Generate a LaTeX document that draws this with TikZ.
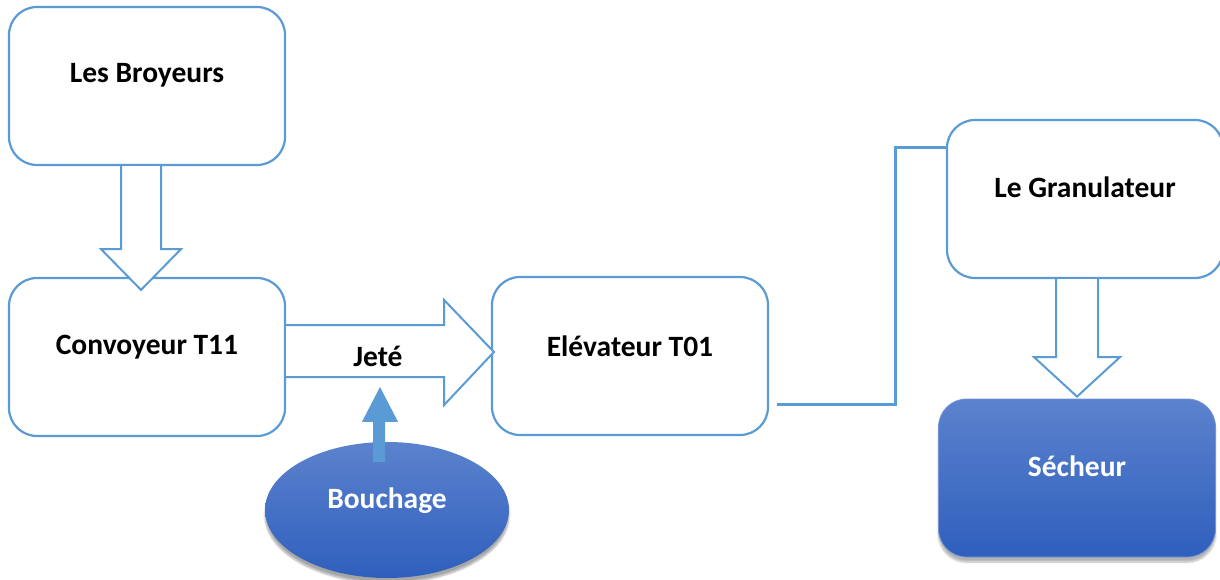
\documentclass[tikz,border=0pt]{standalone}
\usepackage{fontspec}
\setmainfont{Carlito}
\usetikzlibrary{calc,shapes.geometric,shadows.blur}
\definecolor{edge}{HTML}{5B9BD5}
\definecolor{topblue}{HTML}{5B82CD}
\definecolor{botblue}{HTML}{2F5FBD}
\begin{document}
\begin{tikzpicture}[x=1pt,y=-1pt,
 box/.style={draw=edge, line width=2.2pt, rounded corners=28pt, fill=white, minimum width=276pt, minimum height=158pt, inner sep=0pt},
 fillbox/.style={rounded corners=28pt, minimum width=277pt, minimum height=158pt, inner sep=0pt, top color=topblue, bottom color=botblue, draw=topblue!85!white, line width=0.8pt, blur shadow={shadow xshift=0pt, shadow yshift=-5pt, shadow blur steps=8, shadow opacity=30}},
 fillell/.style={ellipse, minimum width=244pt, minimum height=136pt, inner sep=0pt, top color=topblue, bottom color=botblue, draw=none, blur shadow={shadow xshift=0pt, shadow yshift=-5pt, shadow blur steps=8, shadow opacity=35}},
 lbl/.style={anchor=base, font=\fontsize{29.5}{35}\selectfont\bfseries, text=black, inner sep=0pt},
 wlbl/.style={lbl, text=white},
 blockarrow/.style={draw=edge, line width=2pt, fill=white, line join=miter},
]
\useasboundingbox (0,0) rectangle (1220,580);

% boxes
\node[box] (broy) at (147,86) {};
\node[box] (conv) at (147,357) {};
\node[box] (elev) at (630,356) {};
\node[box] (gran) at (1085,199) {};
\node[fillbox] (sech) at (1077,478) {};
\node[fillell] (bouch) at (387,510) {};

% block arrow Broyeurs -> Convoyeur
\draw[blockarrow] ($(broy.south)+(-26,0)$) -- ($(broy.south)+(-26,83)$) -- ($(broy.south)+(-46,83)$) -- ($(conv.north)+(-6,13)$) -- ($(broy.south)+(34,83)$) -- ($(broy.south)+(14,83)$) -- ($(broy.south)+(14,0)$);

% block arrow Convoyeur -> Elevateur
\draw[blockarrow] ($(conv.east)+(0,-32)$) -- ($(conv.east)+(158,-32)$) -- ($(conv.east)+(158,-57)$) -- ($(elev.west)+(3,-4)$) -- ($(conv.east)+(158,48)$) -- ($(conv.east)+(158,20)$) -- ($(conv.east)+(0,20)$);

% block arrow Granulateur -> Secheur
\draw[blockarrow] ($(gran.south)+(-29,0)$) -- ($(gran.south)+(-29,78)$) -- ($(gran.south)+(-51,78)$) -- ($(sech.north)+(0,-2)$) -- ($(gran.south)+(35,78)$) -- ($(gran.south)+(13,78)$) -- ($(gran.south)+(13,0)$);

% labels
\node[lbl] (broyT) at (147,83) {Les Broyeurs};
\node[lbl] (convT) at (147,354) {Convoyeur T11};
\node[lbl] (elevT) at (630,356) {Elévateur T01};
\node[lbl] (granT) at (1085,197) {Le Granulateur};
\node[wlbl] (sechT) at (1077,476) {Sécheur};
\node[lbl] (jete) at (378,366) {Jeté};

% Bouchage up arrow
\coordinate (jtip) at ($(jete.base)+(2,21)$);
\fill[edge] ($(bouch.north)+(-14,20)$) -- ($(bouch.north)+(-14,-20)$) -- ($(bouch.north)+(-25,-20)$) -- (jtip) -- ($(bouch.north)+(11,-20)$) -- ($(bouch.north)+(-2,-20)$) -- ($(bouch.north)+(-2,20)$) -- cycle;
\node[wlbl] (bouchT) at (387,508) {Bouchage};

% connector Elevateur -> Granulateur
\coordinate (cstart) at ($(elev.east)+(8,48)$);
\coordinate (cend) at ($(gran.west)+(0,-51)$);
\draw[edge, line width=3pt] (cstart) -- ($(cstart)+(118,0)$) |- (cend);
\end{tikzpicture}
\end{document}
